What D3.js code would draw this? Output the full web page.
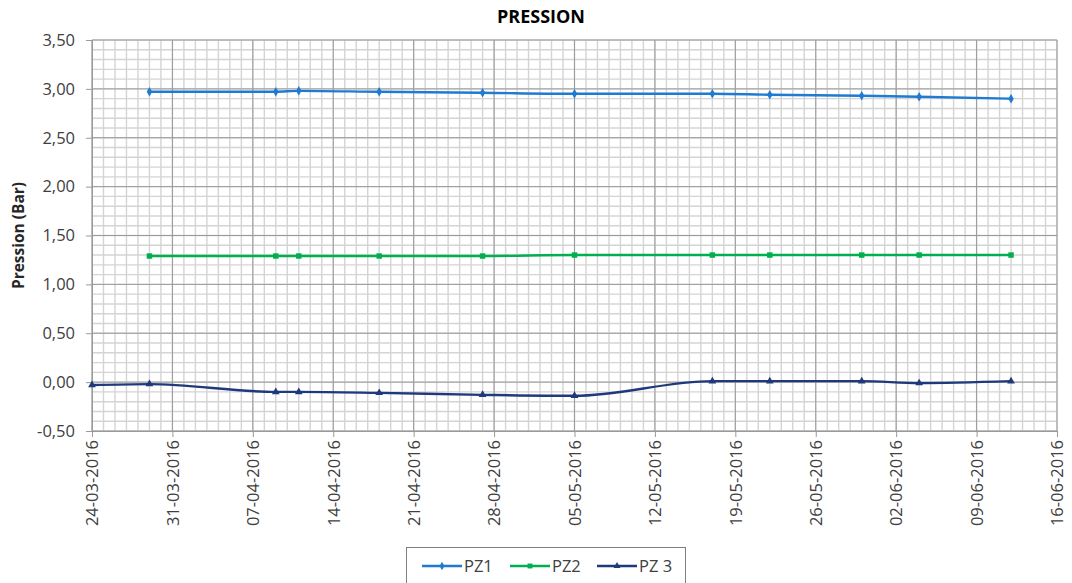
<!DOCTYPE html>
<html>
<head>
<meta charset="utf-8">
<script src="https://cdn.jsdelivr.net/npm/d3@7"></script>
<style>
  html, body { margin: 0; padding: 0; background: #fff; }
  svg { display: block; font-family: "Open Sans", "Noto Sans", sans-serif; }
</style>
</head>
<body>
<svg id="chart" width="1072" height="583"></svg>
<script>
// Measurement dates (piezometer readings)
const datesPZ12 = ["2016-03-29","2016-04-09","2016-04-11","2016-04-18","2016-04-27","2016-05-05","2016-05-17","2016-05-22","2016-05-30","2016-06-04","2016-06-12"];
const datesPZ3  = ["2016-03-24","2016-03-29","2016-04-09","2016-04-11","2016-04-18","2016-04-27","2016-05-05","2016-05-17","2016-05-22","2016-05-30","2016-06-04","2016-06-12"];

// Pressure values (bar)
const valuesPZ1 = [2.97, 2.97, 2.98, 2.97, 2.96, 2.95, 2.95, 2.94, 2.93, 2.92, 2.90];
const valuesPZ2 = [1.29, 1.29, 1.29, 1.29, 1.29, 1.30, 1.30, 1.30, 1.30, 1.30, 1.30];
const valuesPZ3 = [-0.03, -0.02, -0.10, -0.10, -0.11, -0.13, -0.14, 0.01, 0.01, 0.01, -0.01, 0.01];

// Axis ticks
const xTickDates = ["2016-03-24","2016-03-31","2016-04-07","2016-04-14","2016-04-21","2016-04-28","2016-05-05","2016-05-12","2016-05-19","2016-05-26","2016-06-02","2016-06-09","2016-06-16"];
const yTickValues = [-0.5, 0, 0.5, 1, 1.5, 2, 2.5, 3, 3.5];

const seriesNames = ["PZ1", "PZ2", "PZ 3"];
const seriesColors = ["#1f7bd2", "#00b050", "#1f3a7c"];
const seriesMarkers = [d3.symbolDiamond, d3.symbolSquare, d3.symbolTriangle];

const parse = d3.utcParse("%Y-%m-%d");
const fmtDate = d3.utcFormat("%d-%m-%Y");
const fmtVal = v => d3.format(".2f")(v).replace(".", ",").replace("\u2212", "-");

const svg = d3.select("#chart");
const W = 1072, H = 583;
const plot = { left: 92, right: 1057, top: 40, bottom: 431 };

const x = d3.scaleUtc()
  .domain([parse(xTickDates[0]), parse(xTickDates[xTickDates.length - 1])])
  .range([plot.left, plot.right]);
const y = d3.scaleLinear()
  .domain([-0.5, 3.5])
  .range([plot.bottom, plot.top]);

svg.append("rect").attr("width", W).attr("height", H).attr("fill", "#fff");

// Grid: daily / 0.1 bar minor lines, weekly / 0.5 bar major lines
const grid = svg.append("g");
const dayLines = d3.utcDay.range(x.domain()[0], d3.utcDay.offset(x.domain()[1], 1));
grid.selectAll(".vminor").data(dayLines).join("line")
  .attr("x1", d => x(d)).attr("x2", d => x(d))
  .attr("y1", plot.top).attr("y2", plot.bottom)
  .attr("stroke", "#d4d4d4").attr("stroke-width", 1.4);
grid.selectAll(".hminor").data(y.ticks(40)).join("line")
  .attr("x1", plot.left).attr("x2", plot.right)
  .attr("y1", d => y(d)).attr("y2", d => y(d))
  .attr("stroke", "#d4d4d4").attr("stroke-width", 1.4);
grid.selectAll(".vmajor").data(xTickDates.map(parse)).join("line")
  .attr("x1", d => x(d)).attr("x2", d => x(d))
  .attr("y1", plot.top).attr("y2", plot.bottom)
  .attr("stroke", "#9a9a9a").attr("stroke-width", 1);
grid.selectAll(".hmajor").data(yTickValues).join("line")
  .attr("x1", plot.left).attr("x2", plot.right)
  .attr("y1", d => y(d)).attr("y2", d => y(d))
  .attr("stroke", "#9a9a9a").attr("stroke-width", 1);

// Axes
const yAxis = svg.append("g")
  .attr("transform", `translate(${plot.left},0)`)
  .call(d3.axisLeft(y).tickValues(yTickValues).tickFormat(fmtVal).tickSize(6).tickPadding(11));
yAxis.select(".domain").attr("stroke", "#9a9a9a");
yAxis.selectAll(".tick line").attr("stroke", "#9a9a9a");
yAxis.selectAll("text").attr("fill", "#404040").style("font-size", "16.5px")
  .style("font-family", '"Open Sans", sans-serif');

const xAxis = svg.append("g")
  .attr("transform", `translate(0,${plot.bottom})`)
  .call(d3.axisBottom(x).tickValues(xTickDates.map(parse)).tickFormat(fmtDate).tickSize(6));
xAxis.select(".domain").attr("stroke", "#9a9a9a");
xAxis.selectAll(".tick line").attr("stroke", "#9a9a9a");
xAxis.selectAll("text")
  .attr("fill", "#404040")
  .style("font-size", "16.5px")
  .style("font-family", '"Open Sans", sans-serif')
  .attr("transform", "rotate(-90)")
  .attr("text-anchor", "end")
  .attr("x", -9).attr("y", 0).attr("dy", "0.35em");

// Titles
svg.append("text")
  .attr("x", 541).attr("y", 23)
  .attr("text-anchor", "middle")
  .attr("font-weight", "bold").attr("font-size", "18px")
  .attr("fill", "#000")
  .text("PRESSION");
svg.append("text")
  .attr("transform", `translate(24,${(plot.top + plot.bottom) / 2}) rotate(-90)`)
  .attr("text-anchor", "middle")
  .attr("font-weight", "bold").attr("font-size", "15.5px")
  .attr("fill", "#262626")
  .text("Pression (Bar)");

// Series
const series = [
  { name: seriesNames[0], dates: datesPZ12, values: valuesPZ1 },
  { name: seriesNames[1], dates: datesPZ12, values: valuesPZ2 },
  { name: seriesNames[2], dates: datesPZ3, values: valuesPZ3 }
].map((s, i) => ({
  ...s, color: seriesColors[i], marker: seriesMarkers[i],
  points: s.dates.map((d, j) => ({ date: parse(d), value: s.values[j] }))
}));

const line = d3.line()
  .x(d => x(d.date)).y(d => y(d.value))
  .curve(d3.curveMonotoneX);

const markerSize = [26, 30, 26];
series.forEach((s, i) => {
  const g = svg.append("g");
  g.append("path").datum(s.points)
    .attr("d", line)
    .attr("fill", "none")
    .attr("stroke", s.color)
    .attr("stroke-width", 2.4)
    .attr("stroke-linejoin", "round");
  g.selectAll("path.mk").data(s.points).join("path")
    .attr("class", "mk")
    .attr("transform", d => `translate(${x(d.date)},${y(d.value)})`)
    .attr("d", d3.symbol().type(s.marker).size(markerSize[i]))
    .attr("fill", s.color);
});

// Legend
const legend = svg.append("g");
legend.append("rect")
  .attr("x", 406.5).attr("y", 547.5).attr("width", 279).attr("height", 40)
  .attr("fill", "#fff").attr("stroke", "#7f7f7f").attr("stroke-width", 1);
const legX = [422, 510, 597];
series.forEach((s, i) => {
  const lg = legend.append("g").attr("transform", `translate(${legX[i]},566)`);
  lg.append("line").attr("x1", 0).attr("x2", 40).attr("y1", 0).attr("y2", 0)
    .attr("stroke", s.color).attr("stroke-width", 2.4);
  lg.append("path").attr("transform", "translate(20,0)")
    .attr("d", d3.symbol().type(s.marker).size(markerSize[i] * 0.8))
    .attr("fill", s.color);
  lg.append("text").attr("x", 42).attr("y", 0).attr("dy", "0.35em")
    .attr("font-size", "16.5px").attr("fill", "#404040")
    .text(s.name);
});
</script>
</body>
</html>
